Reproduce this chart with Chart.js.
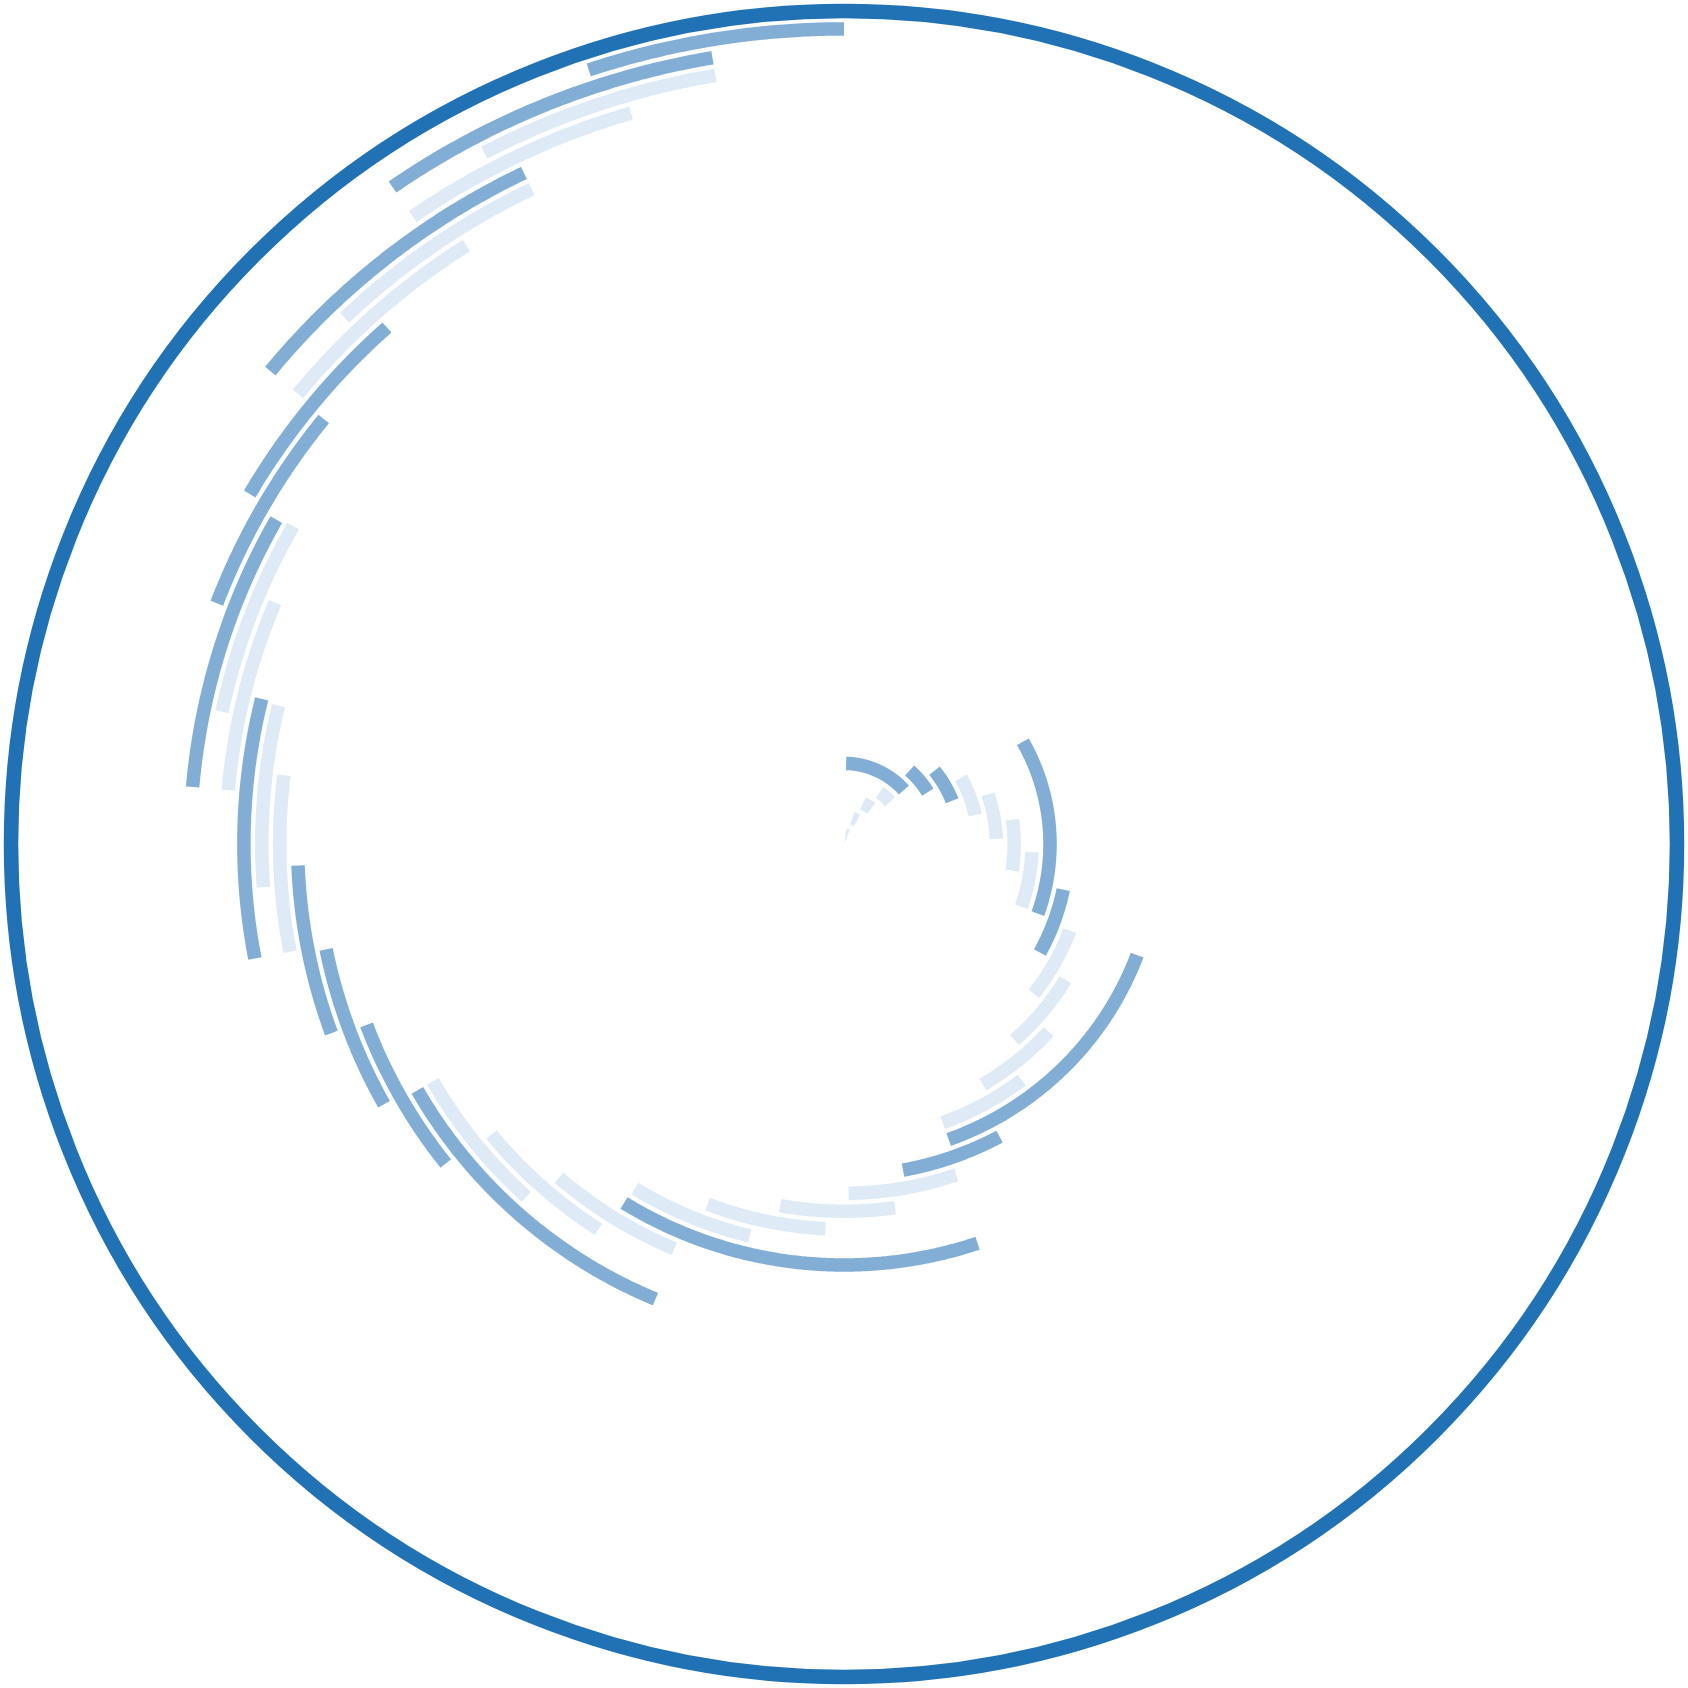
<!DOCTYPE html>
<html>
<head>
<meta charset="utf-8">
<script src="https://cdn.jsdelivr.net/npm/chart.js@4/dist/chart.umd.min.js"></script>
<style>
  html, body { margin: 0; padding: 0; background: #ffffff; }
  canvas { display: block; }
</style>
</head>
<body>
<canvas id="spiralChart" width="1688" height="1688"></canvas>
<script>
// one arc per ring, ring 0 in the middle
const ringRadius = [0.5, 1.5, 2.5, 3.5, 4.5, 5.5, 6.5, 7.5, 8.5, 9.5,
    10.5, 11.5, 12.5, 13.5, 14.5, 15.5, 16.5, 17.5, 18.5, 19.5,
    20.5, 21.5, 22.5, 23.5, 24.5, 25.5, 26.5, 27.5, 28.5, 29.5,
    30.5, 31.5, 32.5, 33.5, 34.5, 35.5, 36.5, 37.5, 38.5, 39.5,
    40.5, 41.5, 42.5, 43.5, 44.5, 45.5];
const startDeg = [10, 18, 25, 34.4, 1.4, 41.7, 51, 60.4, 71.1, 81.7,
    92.5, 60.3, 101.7, 111, 121.6, 132.4, 142.9, 110.8, 152.1, 161.3,
    172.1, 182.7, 193.5, 161.4, 202.7, 212.5, 222.1, 202.6, 231.3, 240.6,
    249.8, 259.1, 265.8, 259, 275.1, 281.9, 275.1, 290.9, 300.4, 309.6,
    316.5, 309.6, 325.6, 332.4, 325.6, 341.7];
const endDeg = [22, 29, 37.5, 47.4, 48, 58.3, 68.2, 77.6, 88.1, 98.9,
    109.6, 109.7, 119.1, 128.2, 139, 149.9, 160.6, 160.6, 169.8, 179.2,
    189.9, 200.7, 211.2, 211.4, 220.6, 230.4, 240.1, 240, 249.3, 258.6,
    267.8, 277, 283.7, 283.9, 293, 299.9, 299.8, 309.2, 318.4, 327.7,
    334.5, 334.5, 343.8, 350.6, 350.6, 359.9];
const kind = ['L', 'L', 'L', 'L', 'D', 'D', 'D', 'L', 'L', 'L',
    'L', 'D', 'D', 'L', 'L', 'L', 'L', 'D', 'D', 'L',
    'L', 'L', 'L', 'D', 'L', 'L', 'L', 'D', 'D', 'D',
    'D', 'L', 'L', 'D', 'L', 'L', 'D', 'D', 'D', 'L',
    'L', 'D', 'L', 'L', 'D', 'D'];
const outerRadius = 46.5;

const kindColor = { D: '#82aed6', L: '#deebf7' };
const stepsPerDeg = 4;
const nSteps = 360 * stepsPerDeg;

document.addEventListener('DOMContentLoaded', function() {
    const labels = [];
    for (let i = 0; i < nSteps; i++) {
        labels.push(i / stepsPerDeg);
    }

    const datasets = ringRadius.map(function(r, k) {
        const values = new Array(nSteps).fill(null);
        const i0 = Math.round(startDeg[k] * stepsPerDeg);
        const i1 = Math.round(endDeg[k] * stepsPerDeg);
        for (let i = i0; i <= i1; i++) {
            values[i % nSteps] = r;
        }
        return {
            label: 'ring ' + k,
            data: values,
            borderColor: kindColor[kind[k]],
            borderWidth: 13.5,
            borderCapStyle: 'butt',
            fill: false,
            spanGaps: false,
            pointRadius: 0,
            pointHitRadius: 0,
            pointHoverRadius: 0
        };
    });

    const config = {
        type: 'radar',
        data: { labels: labels, datasets: datasets },
        options: {
            responsive: false,
            animation: false,
            layout: { padding: 11 },
            scales: {
                r: {
                    min: 0,
                    max: outerRadius,
                    ticks: { display: false, stepSize: outerRadius },
                    grid: {
                        circular: true,
                        color: '#2171b5',
                        lineWidth: 14.5
                    },
                    angleLines: { display: false },
                    pointLabels: { display: false }
                }
            },
            plugins: {
                legend: { display: false },
                tooltip: { enabled: false }
            }
        }
    };

    const ctx = document.getElementById('spiralChart').getContext('2d');
    new Chart(ctx, config);
});
</script>
</body>
</html>
